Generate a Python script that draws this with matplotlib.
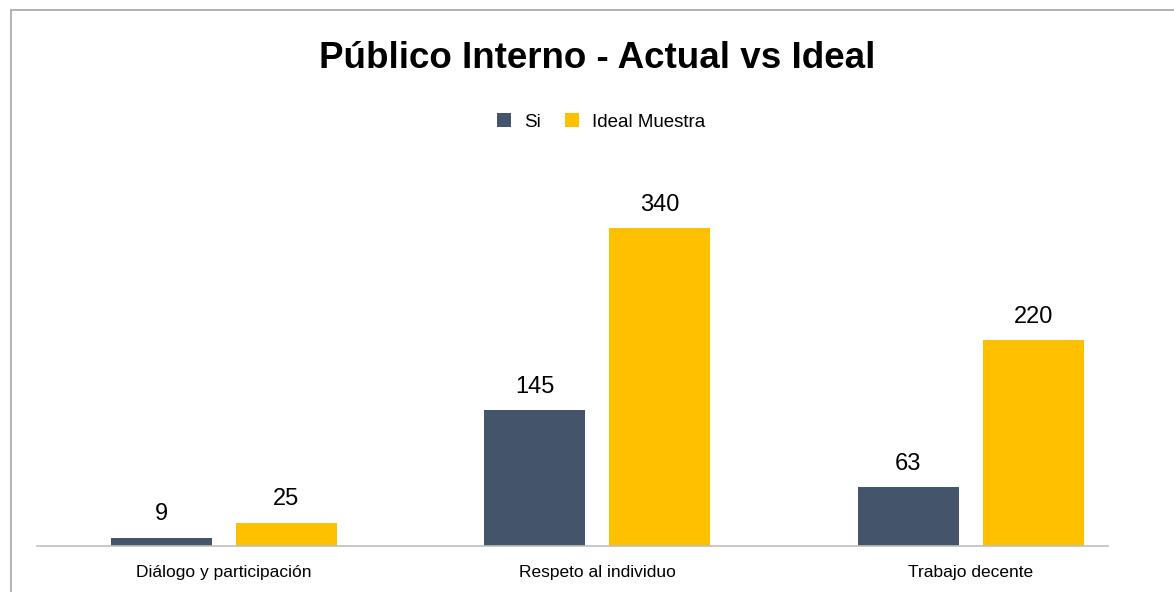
import numpy as np
import matplotlib.pyplot as plt
from matplotlib.patches import Rectangle

categories = ['Diálogo y participación', 'Respeto al individuo', 'Trabajo decente']
si = [9, 145, 63]
ideal = [25, 340, 220]
series_names = ['Si', 'Ideal Muestra']

W, H = 1174, 592
fig = plt.figure(figsize=(W/100, H/100), dpi=100)
plt.rcParams['font.family'] = ['Liberation Sans', 'DejaVu Sans']

# chart border (cut off at right/bottom like the screenshot)
fig.patches.append(Rectangle((11/W, -0.1), 1.2, 1 - 10/H + 0.1, transform=fig.transFigure,
                             fill=False, edgecolor='#A6A6A6', lw=1.2))

ax = fig.add_axes([37/W, 1 - 546/H, (1108-37)/W, (546-160)/H])
x = np.arange(len(categories))
bw = 0.27
off = 0.1675
b1 = ax.bar(x - off, si, bw, color='#44546A', label=series_names[0])
b2 = ax.bar(x + off, ideal, bw, color='#FFC000', label=series_names[1])

for bars in (b1, b2):
    for r in bars:
        ax.annotate(f'{int(r.get_height())}', (r.get_x() + r.get_width()/2, r.get_height()),
                    xytext=(0, 9), textcoords='offset points', ha='center', va='bottom',
                    fontsize=17, color='black')

ax.set_xlim(-0.5, 2.367)
ax.set_ylim(0, 412.8)
ax.set_xticks(x)
ax.set_xticklabels(categories, fontsize=12.5)
ax.tick_params(axis='x', length=0, pad=14)
ax.set_yticks([])
for s in ['top', 'right', 'left']:
    ax.spines[s].set_visible(False)
ax.spines['bottom'].set_color('#BFBFBF')
ax.spines['bottom'].set_linewidth(1.2)

fig.text(597/W, 1 - 58/H, 'Público Interno - Actual vs Ideal', ha='center', va='center',
         fontsize=26.5, fontweight='bold')
fig.legend(handles=[b1, b2], loc='center', bbox_to_anchor=(601/W, 1 - 122/H), ncol=2,
           frameon=False, fontsize=13.5, handlelength=0.75, handleheight=0.75,
           columnspacing=1.3, handletextpad=0.7)

fig.savefig('out.png', dpi=100, facecolor='white')
